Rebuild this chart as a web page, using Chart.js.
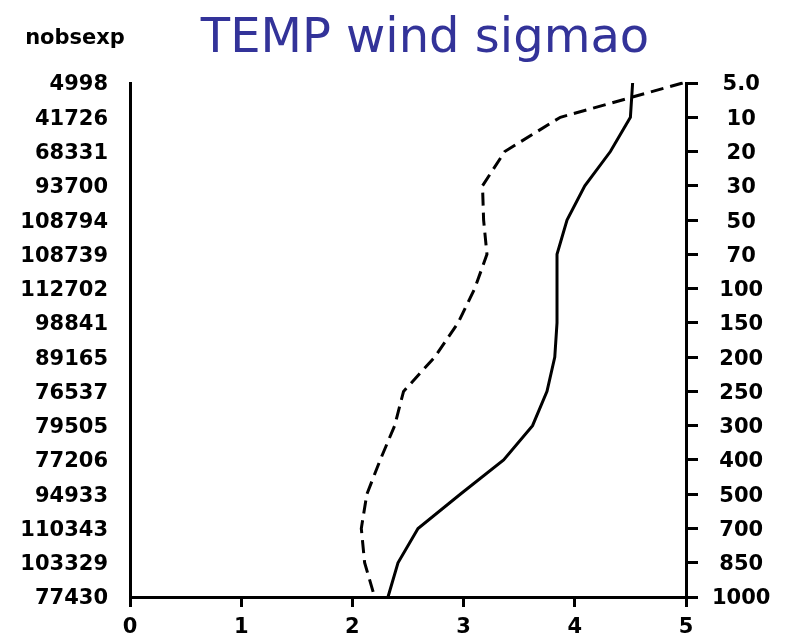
<!DOCTYPE html>
<html>
<head>
<meta charset="utf-8">
<script src="https://cdn.jsdelivr.net/npm/chart.js@4.4.1/dist/chart.umd.min.js"></script>
<style>
  body { margin: 0; background: #fff; }
  #wrap { width: 785px; height: 639px; position: relative; }
</style>
</head>
<body>
<div id="wrap"><canvas id="myChart"></canvas></div>
<script>
// Pressure levels (right axis) and number of obs per level (left axis)
const pressureLevels = ["5.0", "10", "20", "30", "50", "70", "100", "150", "200", "250", "300", "400", "500", "700", "850", "1000"];
const nobsexp = ["4998", "41726", "68331", "93700", "108794", "108739", "112702", "98841", "89165", "76537", "79505", "77206", "94933", "110343", "103329", "77430"];

// sigmao profiles, one value per level
const sigmaoSolid = [4.52, 4.50, 4.32, 4.09, 3.93, 3.84, 3.84, 3.84, 3.82, 3.75, 3.62, 3.36, 2.97, 2.59, 2.41, 2.32];
const sigmaoDashed = [4.97, 3.87, 3.37, 3.17, 3.18, 3.21, 3.10, 2.95, 2.74, 2.46, 2.38, 2.25, 2.13, 2.08, 2.11, 2.20];

const titleText = "TEMP wind sigmao";
const leftHeader = "nobsexp";

const ctx = document.getElementById("myChart");
const tickFont = { family: "'DejaVu Sans', sans-serif", size: 21, weight: "bold" };

// header texts above the plot
let headerText = {
  id: "headerText",
  afterDraw: (chart) => {
    const c = chart.ctx;
    c.save();
    c.textBaseline = "alphabetic";
    c.textAlign = "center";
    c.fillStyle = "#000";
    c.font = "bold 21px 'DejaVu Sans', sans-serif";
    c.fillText(leftHeader, 75, 44);
    c.fillStyle = "#333399";
    c.font = "48px 'Comic Sans MS', 'DejaVu Sans', sans-serif";
    c.fillText(titleText, 425, 52);
    c.restore();
  },
};

const data = {
  labels: pressureLevels,
  datasets: [
    {
      label: "solid",
      data: sigmaoSolid,
      borderColor: "#000",
      borderWidth: 3,
      tension: 0,
    },
    {
      label: "dashed",
      data: sigmaoDashed,
      borderColor: "#000",
      borderWidth: 3,
      borderDash: [13, 7],
      tension: 0,
    },
  ],
};

const config = {
  type: "line",
  data,
  options: {
    indexAxis: "y",
    responsive: true,
    maintainAspectRatio: false,
    animation: false,
    radius: 0,
    fill: false,
    layout: { padding: { top: 83, left: 0, right: 0, bottom: 0 } },
    plugins: {
      legend: { display: false },
      tooltip: { enabled: false },
    },
    scales: {
      x: {
        type: "linear",
        position: "bottom",
        min: 0,
        max: 5,
        ticks: { stepSize: 1, font: tickFont, color: "#000", padding: 8, maxRotation: 0 },
        grid: { drawOnChartArea: false, tickLength: 10, lineWidth: 3, color: "#000" },
        border: { width: 3, color: "#000" },
        afterFit: (scale) => { scale.height = 42; },
      },
      y: {
        type: "category",
        labels: pressureLevels,
        position: "right",
        offset: false,
        ticks: { font: tickFont, color: "#000", crossAlign: "center", padding: 14, labelOffset: 2, autoSkip: false },
        grid: { drawOnChartArea: false, tickLength: 12, lineWidth: 3, color: "#000" },
        border: { width: 3, color: "#000" },
        afterFit: (scale) => { scale.width = 99; },
      },
      yLeft: {
        type: "category",
        labels: nobsexp,
        position: "left",
        offset: false,
        ticks: { font: tickFont, color: "#000", padding: 14, labelOffset: 2, autoSkip: false },
        grid: { display: false },
        border: { width: 3, color: "#000" },
        afterFit: (scale) => { scale.width = 130; },
      },
    },
  },
  plugins: [headerText],
};

new Chart(ctx, config);
</script>
</body>
</html>
